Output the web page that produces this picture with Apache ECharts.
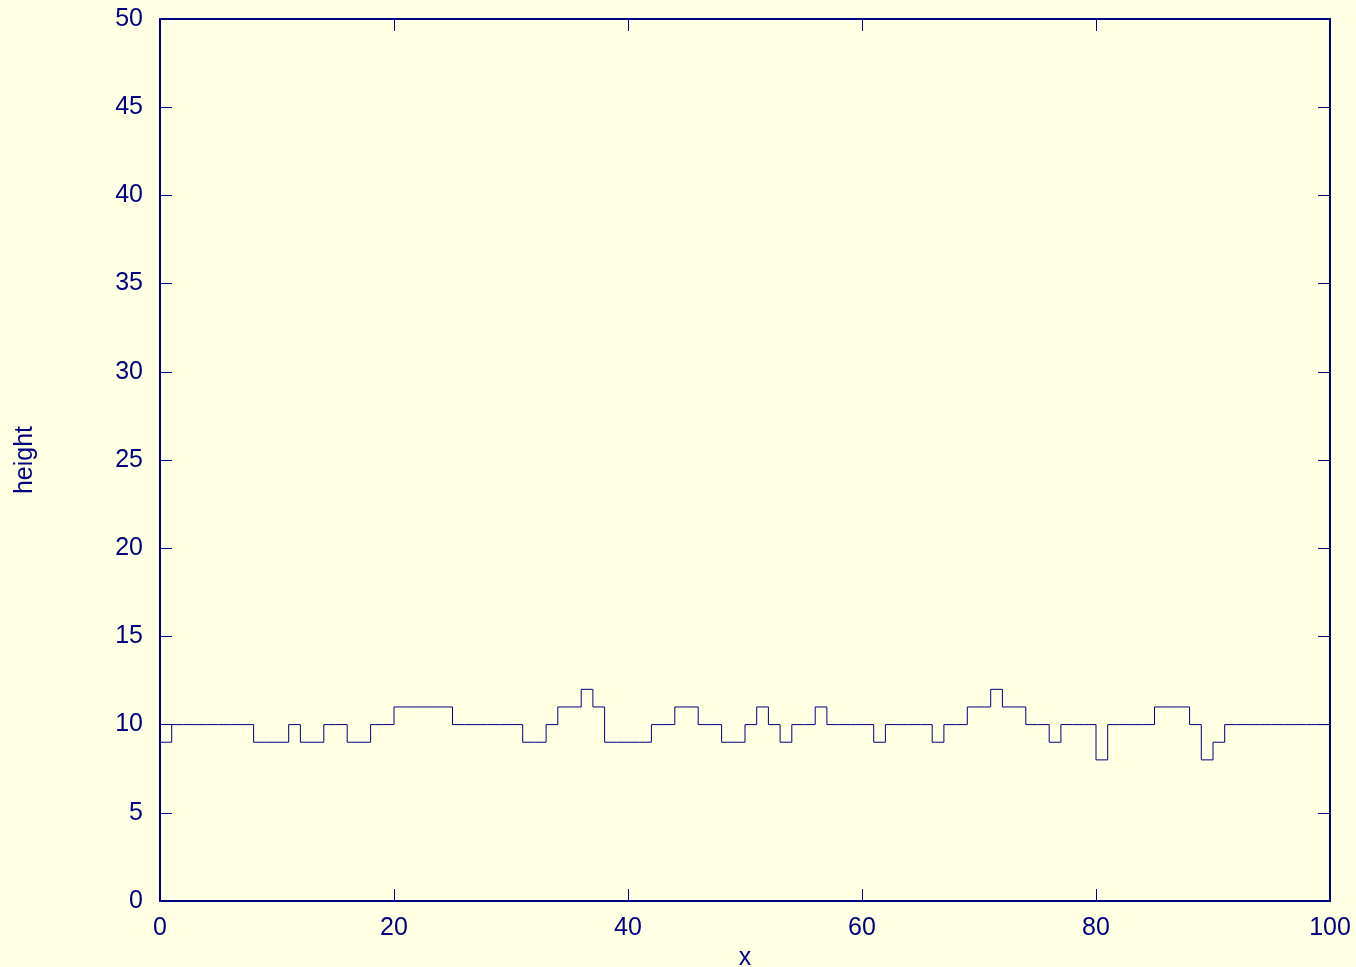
<!DOCTYPE html>
<html>
<head>
<meta charset="utf-8">
<title>height</title>
<script src="https://cdn.jsdelivr.net/npm/echarts@6/dist/echarts.min.js"></script>
<style>
  html, body { margin: 0; padding: 0; background: #ffffe4; }
  #chart { width: 1356px; height: 967px; }
</style>
</head>
<body>
<div id="chart"></div>
<script>
// Column heights, one value per unit cell starting at x = 0
const heights = [
  9, 10, 10, 10, 10, 10, 10, 10, 9, 9,
  9, 10, 9, 9, 10, 10, 9, 9, 10, 10,
  11, 11, 11, 11, 11, 10, 10, 10, 10, 10,
  10, 9, 9, 10, 11, 11, 12, 11, 9, 9,
  9, 9, 10, 10, 11, 11, 10, 10, 9, 9,
  10, 11, 10, 9, 10, 10, 11, 10, 10, 10,
  10, 9, 10, 10, 10, 10, 9, 10, 10, 11,
  11, 12, 11, 11, 10, 10, 9, 10, 10, 10,
  8, 10, 10, 10, 10, 11, 11, 11, 10, 8,
  9, 10, 10, 10, 10, 10, 10, 10, 10, 10
];
const xRange = [0, 100];
const yRange = [0, 50];
const xTickStep = 20;
const yTickStep = 5;
const xName = 'x';
const yName = 'height';

const ink = '#000080';
const font = 'Liberation Sans, Arial, Helvetica, sans-serif';
const fontSize = 25;

// each cell holds its height from x to x+1; close the last cell at the right edge
const points = heights.map((h, i) => [xRange[0] + i, h]);
points.push([xRange[0] + heights.length, heights[heights.length - 1]]);

const chart = echarts.init(document.getElementById('chart'), null, { renderer: 'canvas' });

const tickStyle = { show: true, inside: true, length: 12, lineStyle: { color: ink, width: 1 } };
const lineStyleAxis = { show: true, onZero: false, lineStyle: { color: ink, width: 2 } };

chart.setOption({
  backgroundColor: '#ffffe4',
  animation: false,
  grid: {
    left: 160, right: 26, top: 19, bottom: 66,
    containLabel: false,
    outerBoundsMode: 'none'
  },
  xAxis: [
    {
      type: 'value', min: xRange[0], max: xRange[1], interval: xTickStep,
      position: 'bottom',
      name: xName, nameLocation: 'middle', nameGap: 41,
      nameTextStyle: { color: ink, fontSize: fontSize, fontFamily: font },
      axisLine: lineStyleAxis, axisTick: tickStyle,
      axisLabel: { color: ink, fontSize: fontSize, fontFamily: font, margin: 15 },
      splitLine: { show: false }
    },
    {
      type: 'value', min: xRange[0], max: xRange[1], interval: xTickStep,
      position: 'top',
      axisLine: lineStyleAxis, axisTick: tickStyle,
      axisLabel: { show: false }, splitLine: { show: false }
    }
  ],
  yAxis: [
    {
      type: 'value', min: yRange[0], max: yRange[1], interval: yTickStep,
      position: 'left',
      name: yName, nameLocation: 'middle', nameGap: 122, nameRotate: 90,
      nameTextStyle: { color: ink, fontSize: fontSize, fontFamily: font },
      axisLine: lineStyleAxis, axisTick: tickStyle,
      axisLabel: { color: ink, fontSize: fontSize, fontFamily: font, margin: 17 },
      splitLine: { show: false }
    },
    {
      type: 'value', min: yRange[0], max: yRange[1], interval: yTickStep,
      position: 'right',
      axisLine: lineStyleAxis, axisTick: tickStyle,
      axisLabel: { show: false }, splitLine: { show: false }
    }
  ],
  series: [
    {
      type: 'line',
      xAxisIndex: 0, yAxisIndex: 0,
      step: 'end',
      data: points,
      showSymbol: false,
      symbol: 'none',
      lineStyle: { color: ink, width: 1 },
      clip: true
    }
  ]
});
</script>
</body>
</html>
